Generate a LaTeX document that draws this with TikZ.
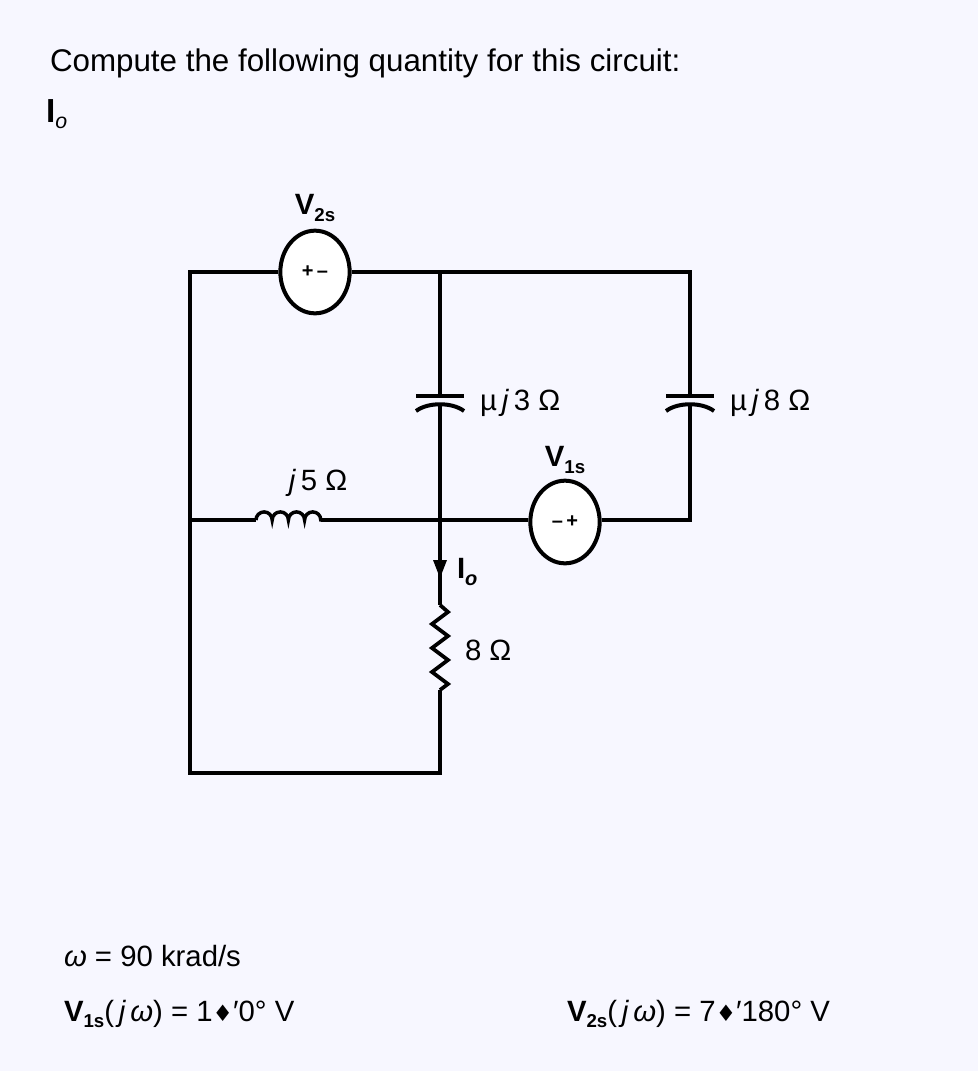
\documentclass[tikz,border=0pt]{standalone}
\usepackage{fontspec}
\setmainfont{Liberation Sans}
\newfontfamily\dvfont{DejaVu Sans}
\usetikzlibrary{shapes.geometric}
\begin{document}
\begin{tikzpicture}[x=0.75pt,y=-0.75pt,line width=3pt,
  src/.style={draw,ellipse,minimum width=52,minimum height=62,inner sep=0pt,fill=white},
  lbl/.style={font=\fontsize{22}{22}\selectfont,inner sep=0pt},
  vl/.style={font=\fontsize{22}{22}\selectfont\bfseries,inner sep=0pt},
  txt/.style={font=\fontsize{22}{24}\selectfont,inner sep=0pt,anchor=base west}]
\fill[white!97!blue] (0,0) rectangle (978,1071);
\useasboundingbox (0,0) rectangle (978,1071);
\node[txt,font=\fontsize{23.5}{24}\selectfont] (t1) at (48,71) {Compute the following quantity for this circuit:};
\node[txt,font=\fontsize{25}{26}\selectfont] (t2) at (44,122) {\textbf{I}\raisebox{-5pt}{\fontsize{16}{16}\selectfont\textit{o}}};
% coordinates
\coordinate (tl) at (190,272); \coordinate (tm) at (440,272); \coordinate (tr) at (690,272);
\coordinate (ml) at (190,520); \coordinate (mm) at (440,520); \coordinate (mr) at (690,520);
\coordinate (bl) at (190,773); \coordinate (bm) at (440,773);
\node[src] (v2) at (315,272) {};
\node[font=\fontsize{15}{15}\selectfont\bfseries] at (v2) {+\,--};
\node[src] (v1) at (565,522) {};
\node[font=\fontsize{15}{15}\selectfont\bfseries] at (v1) {--\,+};
\node[vl] at (315,208) {V\raisebox{-5pt}{\fontsize{14}{14}\selectfont 2s}};
\node[vl] at (565,460) {V\raisebox{-5pt}{\fontsize{14}{14}\selectfont 1s}};
% wires
\draw (v2.east) -- (tr) -- (690,396);
\draw (690,406) -- (mr) -- (v1.east |- mr);
\draw (v1.west |- mm) -- (mm);
\draw (v2.west) -- (tl) -- (bl) -- (bm) -- (440,690);
\draw (tm) -- (440,396);
\draw (440,406) -- (440,605);
\draw (ml) -- (256,520);
\draw (321,520) -- (mm);
% capacitors
\foreach \x in {440,690}{
  \draw (\x-24,396) -- (\x+24,396);
  \draw (\x-24,411) .. controls (\x-12,402) and (\x+12,402) .. (\x+24,411);
}
% inductor
\draw[line width=2.6pt] (256,520) \foreach \i in {0,...,3}{ arc[start angle=180,end angle=360,radius=8.1] } -- (321,520);
% resistor
\draw[line width=2.8pt] (440,605) -- (448,612) -- (432,624) -- (448,636) -- (432,648) -- (448,660) -- (432,672) -- (448,684) -- (440,690);
% current arrow
\fill (433,560) -- (447,560) -- (440,578) -- cycle;
\node[vl,anchor=west] at (455,572) {I\raisebox{-5pt}{\fontsize{15}{15}\selectfont\textit{o}}};
% labels
\node[lbl,anchor=west] at (478,403) {µ\,\textit{j}\,3 Ω};
\node[lbl,anchor=west] at (728,403) {µ\,\textit{j}\,8 Ω};
\node[lbl] at (318,483) {\textit{j}\,5 Ω};
\node[lbl,anchor=west] at (463,650) {8 Ω};
\node[txt] (w) at (62,966) {\textit{ω} = 90 krad/s};
\node[txt] (e1) at (62,1021) {\textbf{V}\raisebox{-5pt}{\fontsize{14}{14}\selectfont\textbf{1s}}(\,\textit{j\,ω}) = 1{\dvfont\fontsize{17}{17}\selectfont ♦}′0° V};
\node[txt] (e2) at (565,1021) {\textbf{V}\raisebox{-5pt}{\fontsize{14}{14}\selectfont\textbf{2s}}(\,\textit{j\,ω}) = 7{\dvfont\fontsize{17}{17}\selectfont ♦}′180° V};
\end{tikzpicture}
\end{document}
